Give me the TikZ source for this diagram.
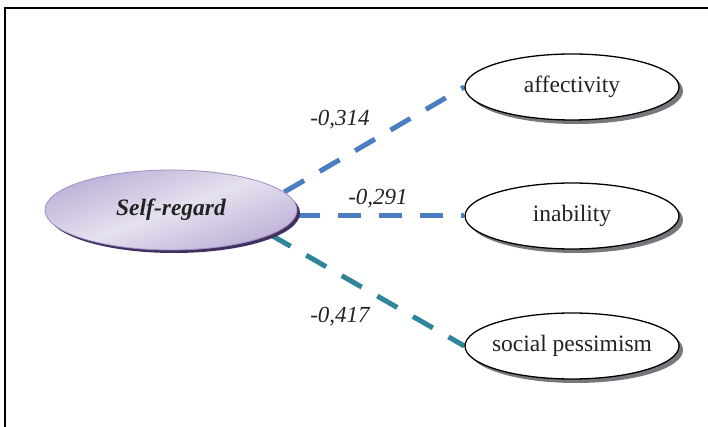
\documentclass[tikz,border=0pt]{standalone}
\usepackage{fontspec}
\setmainfont{Liberation Serif}
\usetikzlibrary{positioning,shapes.geometric,shadows,backgrounds}

\definecolor{loadblue}{HTML}{4A7EBF}
\definecolor{loadteal}{HTML}{31859B}
\definecolor{lavlight}{HTML}{E6E1EF}
\definecolor{lavdark}{HTML}{BCB0D7}
\definecolor{lavedge}{HTML}{9F8FC3}
\definecolor{lavshadow}{HTML}{3F3060}
\definecolor{shadowgray}{HTML}{77777D}
\definecolor{textgray}{HTML}{222222}

\begin{document}
\begin{tikzpicture}[x=1pt, y=1pt,
    factor/.style={ellipse, draw=black, line width=1.3pt, fill=white,
        minimum width=214pt, minimum height=66pt, inner xsep=-6pt, inner ysep=0pt,
        text=textgray, font=\fontsize{23.5}{27}\selectfont,
        drop shadow={shadow xshift=4pt, shadow yshift=-4pt, fill=shadowgray, opacity=1}},
    mainfactor/.style={ellipse, draw=lavedge, line width=0.8pt,
        left color=lavdark, right color=lavdark, middle color=lavlight, shading angle=20,
        minimum width=252pt, minimum height=80pt, inner sep=0pt,
        text=textgray, font=\fontsize{23.5}{27}\selectfont\bfseries\itshape,
        drop shadow={shadow xshift=3pt, shadow yshift=-3pt, fill=lavshadow, opacity=1}},
    loading/.style={line width=5pt, dash pattern=on 23pt off 18pt},
    coef/.style={text=textgray, font=\fontsize{23}{27}\selectfont\itshape}]

    % fix the page size
    \useasboundingbox (0,0) rectangle (708,427);

    % frame (only top and left edges show)
    \draw[line width=1.5pt] (5,0) -- (5,419) -- (708,419);

    % latent factor
    \node[mainfactor] (self) at (171,217) {Self-regard};

    % indicators
    \foreach \name/\y/\txt in {aff/340/affectivity, inab/211/inability, soc/81/social pessimism} {
        \node[factor] (\name) at (572,\y) {\txt};
    }

    % loadings, drawn behind the ellipses
    \begin{scope}[on background layer]
        \draw[loading, loadblue] (self.9) -- (aff.west);
        \draw[loading, loadblue] (self.east |- inab.west) -- (inab.west);
        \draw[loading, loadteal] (self.-14) -- (soc.west);
    \end{scope}

    % coefficients
    \node[coef] (c1) at (340,307) {-0,314};
    \node[coef] (c2) at (378,228) {-0,291};
    \node[coef] (c3) at (340,110) {-0,417};

\end{tikzpicture}
\end{document}
